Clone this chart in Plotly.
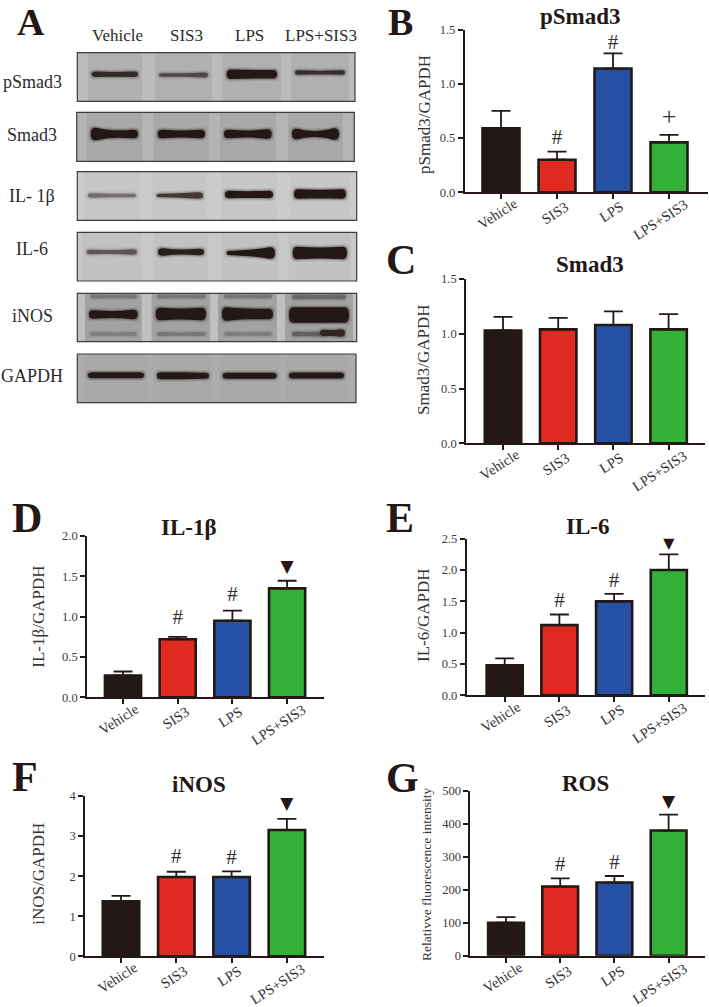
import plotly.graph_objects as go

W, H = 709, 1007
INK = "#231815"
SERIF = "Liberation Serif"

categories = ["Vehicle", "SIS3", "LPS", "LPS+SIS3"]
bar_colors = ["#231815", "#DE2A20", "#2550A3", "#33B038"]

psmad3_mean = [0.59, 0.30, 1.14, 0.46]
psmad3_top = [0.75, 0.375, 1.28, 0.53]
smad3_mean = [1.03, 1.04, 1.08, 1.04]
smad3_top = [1.155, 1.145, 1.205, 1.18]
il1b_mean = [0.27, 0.72, 0.95, 1.35]
il1b_top = [0.32, 0.75, 1.075, 1.445]
il6_mean = [0.48, 1.12, 1.50, 2.00]
il6_top = [0.59, 1.29, 1.62, 2.25]
inos_mean = [1.37, 1.98, 1.98, 3.15]
inos_top = [1.51, 2.11, 2.12, 3.43]
ros_mean = [100, 210, 222, 380]
ros_top = [117, 235, 242, 428]

psmad3_marks = [("SIS3", "#", 0.49), ("LPS", "#", 1.371), ("LPS+SIS3", "+", 0.684)]
il1b_marks = [("SIS3", "#", 0.971), ("LPS", "#", 1.26), ("LPS+SIS3", "▼", 1.607)]
il6_marks = [("SIS3", "#", 1.495), ("LPS", "#", 1.814), ("LPS+SIS3", "▼", 2.425)]
inos_marks = [("SIS3", "#", 2.47), ("LPS", "#", 2.445), ("LPS+SIS3", "▼", 3.776)]
ros_marks = [("SIS3", "#", 272), ("LPS", "#", 280), ("LPS+SIS3", "▼", 465.6)]

mark_font = {"#": (SERIF, 21), "+": (SERIF, 26), "▼": ("DejaVu Sans", 17)}

panels = [
    dict(title="pSmad3", ytitle="pSmad3/GAPDH", mean=psmad3_mean, top=psmad3_top, marks=psmad3_marks,
         ymax=1.5, dtick=0.5, fmt=".1f", letter="B", lx=400, ly=22, lfs=38, ax=464.7, right=708, y0=192.3, ytop=29.5,
         c0=501, sp=56, tx=580, ty=17, yx=425, yy=114, yfs=17),
    dict(title="Smad3", ytitle="Smad3/GAPDH", mean=smad3_mean, top=smad3_top, marks=[],
         ymax=1.5, dtick=0.5, fmt=".1f", letter="C", lx=401, ly=260, lfs=42, ax=466, right=705, y0=443.3, ytop=279,
         c0=503, sp=55.2, tx=590, ty=265, yx=423, yy=360, yfs=17),
    dict(title="IL-1β", ytitle="IL-1β/GAPDH", mean=il1b_mean, top=il1b_top, marks=il1b_marks,
         ymax=2.0, dtick=0.5, fmt=".1f", letter="D", lx=27, ly=518, lfs=42, ax=87, right=324, y0=697.3, ytop=536,
         c0=123, sp=54.7, tx=189, ty=527, yx=37.7, yy=617, yfs=17),
    dict(title="IL-6", ytitle="IL-6/GAPDH", mean=il6_mean, top=il6_top, marks=il6_marks,
         ymax=2.5, dtick=0.5, fmt=".1f", letter="E", lx=400, ly=518, lfs=42, ax=466.7, right=705, y0=695.3, ytop=538.7,
         c0=504.7, sp=54.7, tx=587, ty=526, yx=423, yy=615, yfs=17),
    dict(title="iNOS", ytitle="iNOS/GAPDH", mean=inos_mean, top=inos_top, marks=inos_marks,
         ymax=4, dtick=1, fmt="d", letter="F", lx=25, ly=777, lfs=42, ax=85, right=324, y0=956.3, ytop=796,
         c0=121, sp=55.3, tx=199, ty=784, yx=37.7, yy=874, yfs=17),
    dict(title="ROS", ytitle="Relativve fluorescence intensity", mean=ros_mean, top=ros_top, marks=ros_marks,
         ymax=500, dtick=100, fmt="d", letter="G", lx=402, ly=778, lfs=42, ax=470.3, right=705, y0=955.7, ytop=791,
         c0=506, sp=54.2, tx=585, ty=783, yx=426, yy=874, yfs=13.5),
]

# rotated category labels: centre offset from the tick, in pixels
label_dx = {"Vehicle": -4, "SIS3": -2, "LPS": -2, "LPS+SIS3": -9}
label_dy = {"Vehicle": 22, "SIS3": 21, "LPS": 20, "LPS+SIS3": 28}

# western-blot panel: frame, background, lane tone, label
blots = [
    dict(name="pSmad3", x0=77.3, x1=355, y0=52.7, y1=101.3, bg="#bcbcbc", lane="#b0b0b0", lx=32, ly=81.7,
         bands=[(91.7, 138, 74.3, 5.5, 4.5, 5.5, .85), (159, 208, 75, 3.5, 3.5, 5, .6), (226.7, 277, 74.3, 9.5, 8.5, 8.5, 1),
                (295, 345, 72.5, 4.5, 3.5, 4.5, .8)]),
    dict(name="Smad3", x0=76.7, x1=354.3, y0=112.3, y1=161.3, bg="#b4b4b4", lane="#a8a8a8", lx=32, ly=135,
         bands=[(90.7, 138, 134, 12.5, 6.5, 8.5, 1), (157.7, 205, 134, 8.5, 6.5, 8.5, 1), (224, 271.7, 134, 8.5, 6.5, 9.5, 1),
                (292, 339, 134, 10.5, 4.5, 11.5, 1)]),
    dict(name="IL- 1β", x0=77.3, x1=356.7, y0=171.7, y1=220.3, bg="#cbcbcb", lane="#c6c6c6", lx=32, ly=195.7,
         bands=[(88, 136, 195.5, 4.5, 3.5, 3.5, .42), (156.7, 203, 195.5, 3.5, 4.5, 6.5, .75), (225, 273, 194.5, 7.5, 6.5, 7.5, 1),
                (294, 346, 194, 9.5, 8.5, 9.5, 1)]),
    dict(name="IL-6", x0=77.3, x1=356.7, y0=232.3, y1=281, bg="#c8c8c8", lane="#c2c2c2", lx=32, ly=249.3,
         bands=[(86.7, 137, 252, 4.5, 3.5, 5.5, .55), (158, 204, 252, 7.5, 4.5, 6.5, .95), (226.7, 275, 253, 4.5, 6.5, 11.5, 1),
                (292.7, 347, 253, 12.5, 10.5, 12.5, 1)]),
    dict(name="iNOS", x0=77.3, x1=356.7, y0=293.3, y1=341.7, bg="#c0c0c0", lane="#a2a2a2", lx=32.7, ly=316,
         bands=[(89, 137.7, 314.5, 8.5, 6.5, 9.5, 1), (155.7, 206, 314, 12.5, 10.5, 12.5, 1), (222, 273, 314, 13.5, 10.5, 10.5, 1),
                (289, 349, 315, 15.5, 15.5, 15.5, 1), (320, 345, 333, 6.5, 5.5, 7.5, .85),
                (90, 137, 296.5, 4, 3, 4, .25), (157, 206, 296.5, 4, 3, 4, .25), (224, 272, 296.5, 4, 3, 4, .25),
                (292, 346, 297, 5, 4, 5, .35), (90, 137, 334, 4, 3, 4, .2), (157, 206, 334, 4, 3, 4, .25),
                (224, 272, 334, 4, 3, 4, .2), (292, 320, 334, 5, 4, 5, .4)]),
    dict(name="GAPDH", x0=77.3, x1=356, y0=354, y1=402.7, bg="#adadad", lane="#a9a9a9", lx=32, ly=375.7,
         bands=[(88, 144, 375.3, 6, 6, 6, 1), (157, 209, 375.8, 7, 7, 6, 1), (222.7, 276.7, 375.8, 6, 6, 6, 1),
                (289, 344, 375.5, 6, 6, 6, 1)]),
]
blot_headers = [("Vehicle", 117), ("SIS3", 186), ("LPS", 249), ("LPS+SIS3", 320.7)]


def px(x):
    return x / W


def py(y):
    return 1 - y / H


def note(text, x, y, size, bold=False, angle=0, color=INK):
    return dict(text=f"<b>{text}</b>" if bold else text, x=px(x), y=py(y), xref="paper", yref="paper",
                xanchor="center", yanchor="middle", showarrow=False, textangle=angle,
                font=dict(family=SERIF, size=size, color=color))


fig = go.Figure()
annotations = []
shapes = []


def band_path(x0, x1, yc, t0, tm, t1, grow=0.0, tgrow=0.0):
    x0, x1 = x0 - grow, x1 + grow
    t0, tm, t1 = t0 + tgrow, tm + tgrow, t1 + tgrow
    e = min(6.0, (x1 - x0) / 4)
    third = (x1 - x0 - 2 * e) / 3
    pts = [
        f"M {px(x0)},{py(yc)}",
        f"C {px(x0)},{py(yc - t0 / 2)} {px(x0 + e / 2)},{py(yc - t0 / 2)} {px(x0 + e)},{py(yc - t0 / 2)}",
        f"C {px(x0 + e + third)},{py(yc - tm / 2)} {px(x1 - e - third)},{py(yc - tm / 2)} {px(x1 - e)},{py(yc - t1 / 2)}",
        f"C {px(x1 - e / 2)},{py(yc - t1 / 2)} {px(x1)},{py(yc - t1 / 2)} {px(x1)},{py(yc)}",
        f"C {px(x1)},{py(yc + t1 / 2)} {px(x1 - e / 2)},{py(yc + t1 / 2)} {px(x1 - e)},{py(yc + t1 / 2)}",
        f"C {px(x1 - e - third)},{py(yc + tm / 2)} {px(x0 + e + third)},{py(yc + tm / 2)} {px(x0 + e)},{py(yc + t0 / 2)}",
        f"C {px(x0 + e / 2)},{py(yc + t0 / 2)} {px(x0)},{py(yc + t0 / 2)} {px(x0)},{py(yc)} Z",
    ]
    return " ".join(pts)


for b in blots:
    shapes.append(dict(type="rect", xref="paper", yref="paper", x0=px(b["x0"]), x1=px(b["x1"]),
                       y0=py(b["y0"]), y1=py(b["y1"]), fillcolor=b["bg"], line=dict(width=0), layer="below"))
    for lane in b["bands"][:4]:
        shapes.append(dict(type="rect", xref="paper", yref="paper", x0=px(lane[0] - 4), x1=px(lane[1] + 4),
                           y0=py(b["y0"]), y1=py(b["y1"]), fillcolor=b["lane"], line=dict(width=0), layer="below"))
    for band in b["bands"]:
        d = band[6]
        for grow, tgrow, op in [(2.5, 5, .1), (1.2, 2.5, .24), (0, 0, 1)]:
            shapes.append(dict(type="path", xref="paper", yref="paper", path=band_path(*band[:6], grow, tgrow),
                               fillcolor=INK, opacity=op * d, line=dict(width=0), layer="below"))
    shapes.append(dict(type="rect", xref="paper", yref="paper", x0=px(b["x0"]), x1=px(b["x1"]),
                       y0=py(b["y0"]), y1=py(b["y1"]), fillcolor="rgba(0,0,0,0)",
                       line=dict(width=1.2, color="#3c3c3c"), layer="below"))
    annotations.append(note(b["name"], b["lx"], b["ly"], 18, color="#2b2b2b"))

for label, x in blot_headers:
    annotations.append(note(label, x, 35.7, 17, color="#2b2b2b"))
annotations.append(note("A", 31, 22, 38, bold=True))

layout_axes = {}
for i, p in enumerate(panels, start=1):
    xname, yname = ("x", "y") if i == 1 else (f"x{i}", f"y{i}")
    xkey, ykey = ("xaxis", "yaxis") if i == 1 else (f"xaxis{i}", f"yaxis{i}")
    errs = [t - m for t, m in zip(p["top"], p["mean"])]
    fig.add_trace(go.Bar(
        x=categories, y=p["mean"], xaxis=xname, yaxis=yname, width=0.66, showlegend=False,
        marker=dict(color=bar_colors, line=dict(color=INK, width=2.6)),
        error_y=dict(type="data", symmetric=False, array=errs, arrayminus=[0] * 4,
                     color=INK, thickness=1.8, width=9.5),
    ))
    if p["marks"]:
        fig.add_trace(go.Scatter(
            x=[m[0] for m in p["marks"]], y=[m[2] for m in p["marks"]], text=[m[1] for m in p["marks"]],
            mode="text", textposition="middle center", xaxis=xname, yaxis=yname, showlegend=False,
            textfont=dict(family=[mark_font[m[1]][0] for m in p["marks"]],
                          size=[mark_font[m[1]][1] for m in p["marks"]],
                          color=["#333333" if m[1] != "▼" else INK for m in p["marks"]]),
        ))
    layout_axes[xkey] = dict(
        domain=[px(p["ax"]), px(p["right"])], anchor=yname, type="category", categoryorder="array",
        categoryarray=categories, range=[(p["ax"] - p["c0"]) / p["sp"], (p["right"] - p["c0"]) / p["sp"]],
        showline=True, linecolor=INK, linewidth=1.7, ticks="outside", ticklen=5, tickwidth=1.5, tickcolor=INK,
        showticklabels=False, showgrid=False, zeroline=False, fixedrange=True, automargin=False,
    )
    layout_axes[ykey] = dict(
        domain=[py(p["y0"]), py(p["ytop"])], anchor=xname, range=[0, p["ymax"]], dtick=p["dtick"], tick0=0,
        tickformat=p["fmt"], showline=True, linecolor=INK, linewidth=1.7, ticks="outside", ticklen=5,
        tickwidth=1.5, tickcolor=INK, tickfont=dict(family=SERIF, size=12.5, color="#3a3a3a"),
        showgrid=False, zeroline=False, fixedrange=True, automargin=False,
    )
    for j, c in enumerate(categories):
        annotations.append(note(c, p["c0"] + j * p["sp"] + label_dx[c], p["y0"] + label_dy[c], 14.5, angle=-33,
                                color="#333333"))
    annotations.append(note(p["title"], p["tx"], p["ty"], 23, bold=True))
    annotations.append(note(p["ytitle"], p["yx"], p["yy"], p["yfs"], angle=-90, color="#333333"))
    annotations.append(note(p["letter"], p["lx"], p["ly"], p["lfs"], bold=True))

fig.update_layout(
    width=W, height=H, autosize=False, margin=dict(l=0, r=0, t=0, b=0), paper_bgcolor="white", plot_bgcolor="white",
    barmode="overlay", showlegend=False, annotations=annotations, shapes=shapes, hovermode=False,
    font=dict(family=SERIF), **layout_axes,
)
fig.write_html("out.html", post_script="document.body.style.margin='0';document.body.style.overflow='hidden';",
               config=dict(displayModeBar=False))
